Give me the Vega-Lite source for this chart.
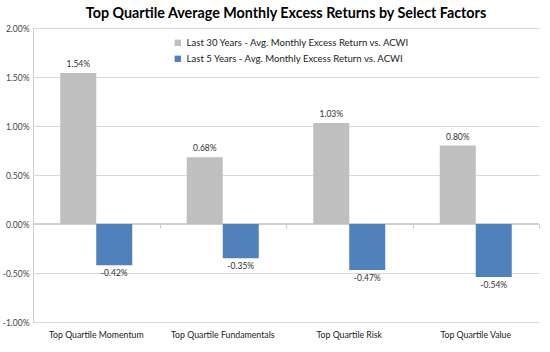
{
  "$schema": "https://vega.github.io/schema/vega-lite/v6.json",
  "width": 506,
  "height": 294,
  "autosize": {"type": "none"},
  "padding": {"left": 33, "top": 28, "right": 11, "bottom": 30},
  "background": "white",
  "config": {
    "view": {"stroke": null},
    "font": "Lato",
    "locale": {
      "number": {"decimal": ".", "thousands": ",", "grouping": [3], "currency": ["$", ""], "minus": "-"}
    }
  },
  "title": {
    "text": "Top Quartile Average Monthly Excess Returns by Select Factors",
    "font": "Lato",
    "fontSize": 14.3,
    "fontWeight": "bold",
    "color": "#000000",
    "anchor": "middle",
    "offset": 3
  },
  "data": {
    "values": [
      {"factor": "Top Quartile Momentum", "series": "Last 30 Years - Avg. Monthly Excess Return vs. ACWI", "value": 0.0154},
      {"factor": "Top Quartile Momentum", "series": "Last 5 Years - Avg. Monthly Excess Return vs. ACWI", "value": -0.0042},
      {"factor": "Top Quartile Fundamentals", "series": "Last 30 Years - Avg. Monthly Excess Return vs. ACWI", "value": 0.0068},
      {"factor": "Top Quartile Fundamentals", "series": "Last 5 Years - Avg. Monthly Excess Return vs. ACWI", "value": -0.0035},
      {"factor": "Top Quartile Risk", "series": "Last 30 Years - Avg. Monthly Excess Return vs. ACWI", "value": 0.0103},
      {"factor": "Top Quartile Risk", "series": "Last 5 Years - Avg. Monthly Excess Return vs. ACWI", "value": -0.0047},
      {"factor": "Top Quartile Value", "series": "Last 30 Years - Avg. Monthly Excess Return vs. ACWI", "value": 0.008},
      {"factor": "Top Quartile Value", "series": "Last 5 Years - Avg. Monthly Excess Return vs. ACWI", "value": -0.0054}
    ]
  },
  "encoding": {
    "y": {
      "field": "value",
      "type": "quantitative",
      "scale": {"domain": [-0.01, 0.02], "nice": false},
      "axis": {
        "title": null,
        "format": ".2%",
        "values": [-0.01, -0.005, 0, 0.005, 0.01, 0.015, 0.02],
        "grid": true,
        "gridColor": "#d9d9d9",
        "gridWidth": 1,
        "domain": true,
        "domainColor": "#d0d0d0",
        "ticks": false,
        "labelFont": "Lato",
        "labelFontSize": 8.5,
        "labelColor": "#444444",
        "labelPadding": 4
      }
    }
  },
  "resolve": {"axis": {"x": "independent"}},
  "layer": [
    {
      "mark": {"type": "rule", "opacity": 0},
      "encoding": {
        "x": {
          "field": "factor",
          "type": "nominal",
          "sort": null,
          "scale": {"paddingInner": 0, "paddingOuter": 0},
          "axis": {
            "orient": "bottom",
            "title": null,
            "labels": false,
            "domain": false,
            "ticks": true,
            "tickBand": "extent",
            "tickSize": 4,
            "tickColor": "#c8c8c8",
            "offset": -98
          }
        },
        "y": {"datum": 0}
      }
    },
    {
      "mark": {"type": "rule", "color": "#d0d0d0", "strokeWidth": 1},
      "encoding": {
        "x": {"value": 0},
        "x2": {"value": 506},
        "y": {"datum": 0}
      }
    },
    {
      "encoding": {
        "x": {
          "field": "factor",
          "type": "nominal",
          "sort": null,
          "scale": {"paddingInner": 0, "paddingOuter": 0},
          "axis": {
            "orient": "bottom",
            "title": null,
            "labelAngle": 0,
            "domain": false,
            "ticks": false,
            "labelFont": "Lato",
            "labelFontSize": 8.75,
            "labelColor": "#222222",
            "labelPadding": 8
          }
        },
        "xOffset": {
          "field": "series",
          "type": "nominal",
          "scale": {"paddingInner": 0, "paddingOuter": 0.757}
        }
      },
      "layer": [
        {
          "mark": {"type": "bar", "stroke": null},
          "encoding": {
            "color": {
              "field": "series",
              "type": "nominal",
              "scale": {"range": ["#BFBFBF", "#4F81BD"]},
              "legend": {
                "title": null,
                "orient": "none",
                "legendX": 140,
                "legendY": 10,
                "symbolType": "square",
                "symbolSize": 40,
                "symbolStrokeWidth": 0,
                "labelFont": "Lato",
                "labelFontSize": 9.6,
                "labelColor": "#222222",
                "labelLimit": 0,
                "labelOffset": 4,
                "rowPadding": 5,
                "fillColor": "white"
              }
            }
          }
        },
        {
          "transform": [{"filter": "datum.value >= 0"}],
          "mark": {"type": "text", "baseline": "bottom", "dy": -4, "font": "Lato", "fontSize": 8.5, "color": "#333333"},
          "encoding": {"text": {"field": "value", "type": "quantitative", "format": ".2%"}}
        },
        {
          "transform": [{"filter": "datum.value < 0"}],
          "mark": {"type": "text", "baseline": "top", "dy": 4, "font": "Lato", "fontSize": 8.5, "color": "#333333"},
          "encoding": {"text": {"field": "value", "type": "quantitative", "format": ".2%"}}
        }
      ]
    }
  ]
}
